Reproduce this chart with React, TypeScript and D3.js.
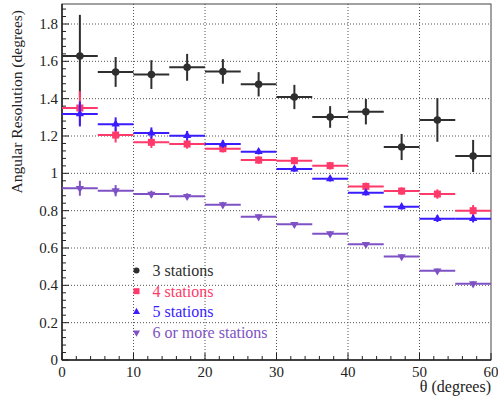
import React from "react";
import * as d3 from "d3";

const binLow = [0, 5, 10, 15, 20, 25, 30, 35, 40, 45, 50, 55];
const binWidth = 5;

const res3 = [1.629, 1.543, 1.529, 1.568, 1.546, 1.477, 1.409, 1.302, 1.330, 1.141, 1.286, 1.093];
const err3 = [0.22, 0.08, 0.077, 0.072, 0.066, 0.065, 0.065, 0.058, 0.068, 0.07, 0.117, 0.086];

const res4 = [1.350, 1.205, 1.166, 1.157, 1.132, 1.071, 1.068, 1.041, 0.930, 0.905, 0.889, 0.800];
const err4 = [0.09, 0.04, 0.03, 0.025, 0.02, 0.02, 0.02, 0.02, 0.02, 0.02, 0.025, 0.03];

const res5 = [1.318, 1.263, 1.216, 1.202, 1.157, 1.116, 1.023, 0.971, 0.896, 0.821, 0.757, 0.757];
const err5 = [0.067, 0.037, 0.03, 0.025, 0.02, 0.015, 0.015, 0.015, 0.015, 0.015, 0.018, 0.02];

const res6 = [0.920, 0.907, 0.889, 0.877, 0.832, 0.768, 0.727, 0.677, 0.620, 0.554, 0.478, 0.409];
const err6 = [0.04, 0.03, 0.018, 0.016, 0.015, 0.012, 0.012, 0.012, 0.012, 0.012, 0.012, 0.012];

const seriesNames = ["3 stations", "4 stations", "5 stations", "6 or more stations"];
const seriesColors = ["#2e2e2e", "#ff3a6a", "#3a1cff", "#7e52c4"];
const seriesMarkers = ["circle", "square", "triangle", "triangleDown"];

const xTicks = [0, 10, 20, 30, 40, 50, 60];
const yTicks = [0, 0.2, 0.4, 0.6, 0.8, 1, 1.2, 1.4, 1.6, 1.8];

const W = 498, H = 400;
const L = 62, R = 491, T = 4, B = 360;

function Marker({ type, x, y, color, s }: { type: string; x: number; y: number; color: string; s: number }) {
  if (type === "circle") return <circle cx={x} cy={y} r={s * 0.5} fill={color} />;
  if (type === "square") return <rect x={x - s / 2} y={y - s / 2} width={s} height={s} fill={color} />;
  const sym = d3.symbol().type(d3.symbolTriangle).size(s * s * 0.6)();
  return <path d={sym || ""} transform={`translate(${x},${y}) rotate(${type === "triangleDown" ? 180 : 0})`} fill={color} />;
}

export default function App() {
  const x = d3.scaleLinear().domain([0, 60]).range([L, R]);
  const y = d3.scaleLinear().domain([0, 1.8 * (B - T) / 336]).range([B, T]);
  const allRes = [res3, res4, res5, res6];
  const allErr = [err3, err4, err5, err6];
  const xMinor = d3.range(0, 60.001, 2);
  const yMinor = d3.range(0, 1.9, 0.04);
  const fs = { fontFamily: '"Liberation Serif", serif' };
  return (
    <svg width={W} height={H} style={{ position: "absolute", left: 0, top: 0 }}>
      <rect x={0} y={0} width={W} height={H} fill="#fff" />
      {xTicks.filter((t) => t > 0 && t < 60).map((t) => (
        <line key={"gx" + t} x1={x(t)} x2={x(t)} y1={T} y2={B} stroke="#555" strokeWidth={1} strokeDasharray="1,2" />
      ))}
      {yTicks.filter((t) => t > 0).map((t) => (
        <line key={"gy" + t} x1={L} x2={R} y1={y(t)} y2={y(t)} stroke="#555" strokeWidth={1} strokeDasharray="1,2" />
      ))}
      <rect x={L} y={T} width={R - L} height={B - T} fill="none" stroke="#444" strokeWidth={1} />
      <line x1={L} x2={L} y1={T} y2={B} stroke="#222" strokeWidth={1.5} />
      <line x1={L} x2={R} y1={B} y2={B} stroke="#222" strokeWidth={1.5} />
      {xMinor.map((t) => {
        const major = Math.abs(t % 10) < 1e-6;
        return <line key={"tx" + t} x1={x(t)} x2={x(t)} y1={B} y2={B - (major ? 7 : 4)} stroke="#222" strokeWidth={1} />;
      })}
      {yMinor.map((t) => {
        const major = Math.abs(Math.round(t / 0.2) * 0.2 - t) < 1e-6;
        return <line key={"ty" + t} x1={L} x2={L + (major ? 7 : 4)} y1={y(t)} y2={y(t)} stroke="#222" strokeWidth={1} />;
      })}
      {xTicks.map((t) => (
        <text key={"lx" + t} x={x(t)} y={377} textAnchor="middle" style={fs} fontSize={15} fill="#222">{t}</text>
      ))}
      {yTicks.map((t) => (
        <text key={"ly" + t} x={58} y={y(t) + 5} textAnchor="end" style={fs} fontSize={15} fill="#222">{d3.format("~g")(t)}</text>
      ))}
      <text x={491} y={392} textAnchor="end" style={fs} fontSize={16} fill="#222">θ (degrees)</text>
      <text transform={`translate(22,${T + 6}) rotate(-90)`} textAnchor="end" style={fs} fontSize={15.5} fill="#222">Angular Resolution (degrees)</text>
      {allRes.map((vals, si) => (
        <g key={"s" + si}>
          {vals.map((v, i) => {
            const cx = x(binLow[i] + binWidth / 2);
            const e = allErr[si][i];
            return (
              <g key={i}>
                <line x1={x(binLow[i])} x2={x(binLow[i] + binWidth)} y1={y(v)} y2={y(v)} stroke={seriesColors[si]} strokeWidth={2} />
                <line x1={cx} x2={cx} y1={y(v - e)} y2={y(v + e)} stroke={seriesColors[si]} strokeWidth={2} />
                <Marker type={seriesMarkers[si]} x={cx} y={y(v)} color={seriesColors[si]} s={si === 0 ? 7.5 : 7} />
              </g>
            );
          })}
        </g>
      ))}
      {seriesNames.map((n, i) => (
        <g key={"lg" + i}>
          <Marker type={seriesMarkers[i]} x={136.5} y={270.5 + i * 20.7} color={seriesColors[i]} s={6} />
          <text x={152.5} y={276 + i * 20.7} style={fs} fontSize={16} fill={seriesColors[i]}>{n}</text>
        </g>
      ))}
    </svg>
  );
}
